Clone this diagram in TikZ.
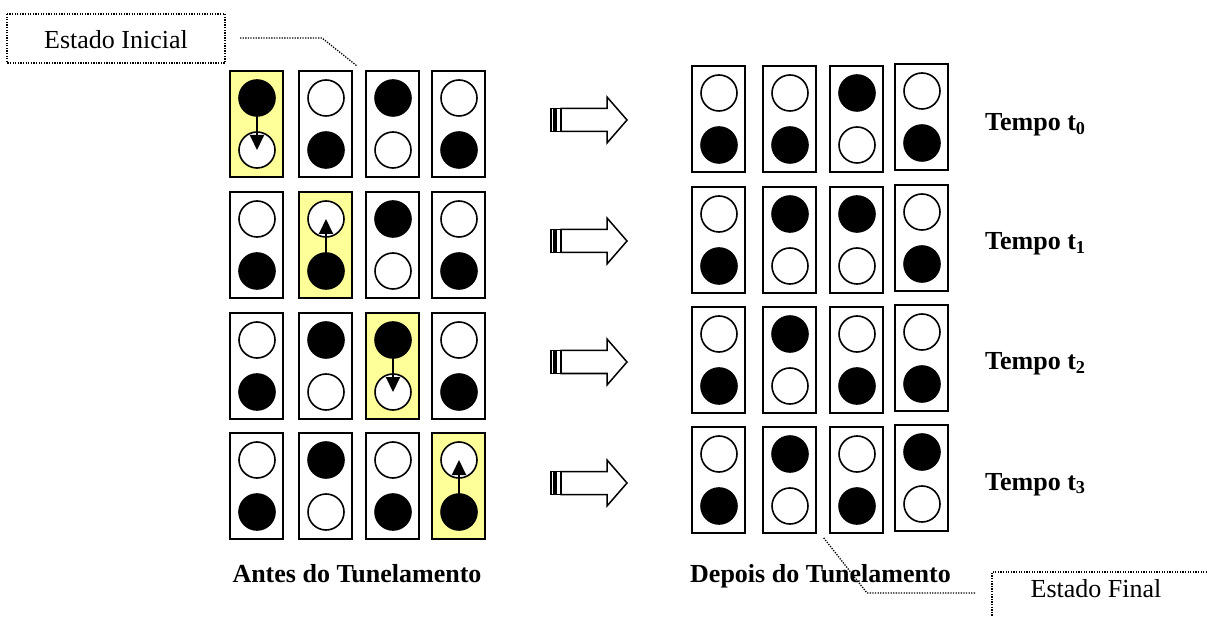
\documentclass[tikz,border=0pt]{standalone}
\usepackage{fontspec}
\setmainfont{Liberation Serif}
\usetikzlibrary{arrows.meta}
\definecolor{lightyel}{HTML}{FFFF99}
\tikzset{
  cell/.style={draw=black, line width=2pt, fill=white},
  hicell/.style={draw=black, line width=2pt, fill=lightyel},
  bdot/.style={circle, fill=black, draw=black, line width=1.6pt, minimum size=36pt, inner sep=0pt},
  wdot/.style={circle, fill=white, draw=black, line width=1.6pt, minimum size=36pt, inner sep=0pt},
  lbl/.style={font=\fontsize{26}{30}\selectfont\bfseries, inner sep=0pt},
  callout/.style={font=\fontsize{26}{30}\selectfont, inner sep=0pt},
  dotline/.style={line width=1.3pt, dash pattern=on 1.3pt off 1.3pt},
  bigarrow/.style={line width=1.5pt, fill=white, line join=miter},
  tun/.style={line width=2pt, -{Triangle[length=15pt,width=14pt]}}
}
% #1 = name, #2 = x, #3 = y, #4 = style, #5 top, #6 bottom
\newcommand{\qcell}[6]{%
  \draw[#4] (#2,#3) rectangle ++(53,106);
  \node[#5] (#1t) at (#2+27,#3+27) {};
  \node[#6] (#1b) at (#2+27,#3+79) {};
}
\begin{document}
\begin{tikzpicture}[x=1pt,y=-1pt]
\useasboundingbox (0,0) rectangle (1207,617);
% ---- Left grid (before tunneling)
% row 1
\qcell{La1}{230}{71}{hicell}{bdot}{wdot}
\qcell{Lb1}{299}{71}{cell}{wdot}{bdot}
\qcell{Lc1}{366}{71}{cell}{bdot}{wdot}
\qcell{Ld1}{432}{71}{cell}{wdot}{bdot}
\draw[tun] (La1t.center) -- (La1b.center);
% row 2
\qcell{La2}{230}{192}{cell}{wdot}{bdot}
\qcell{Lb2}{299}{192}{hicell}{wdot}{bdot}
\qcell{Lc2}{366}{192}{cell}{bdot}{wdot}
\qcell{Ld2}{432}{192}{cell}{wdot}{bdot}
\draw[tun] (Lb2b.center) -- (Lb2t.center);
% row 3
\qcell{La3}{230}{313}{cell}{wdot}{bdot}
\qcell{Lb3}{299}{313}{cell}{bdot}{wdot}
\qcell{Lc3}{366}{313}{hicell}{bdot}{wdot}
\qcell{Ld3}{432}{313}{cell}{wdot}{bdot}
\draw[tun] (Lc3t.center) -- (Lc3b.center);
% row 4
\qcell{La4}{230}{433}{cell}{wdot}{bdot}
\qcell{Lb4}{299}{433}{cell}{bdot}{wdot}
\qcell{Lc4}{366}{433}{cell}{wdot}{bdot}
\qcell{Ld4}{432}{433}{hicell}{wdot}{bdot}
\draw[tun] (Ld4b.center) -- (Ld4t.center);
% ---- Right grid (after tunneling)
\qcell{Ra1}{692}{66}{cell}{wdot}{bdot}
\qcell{Rb1}{763}{66}{cell}{wdot}{bdot}
\qcell{Rc1}{830}{66}{cell}{bdot}{wdot}
\qcell{Rd1}{895}{64}{cell}{wdot}{bdot}
\qcell{Ra2}{692}{187}{cell}{wdot}{bdot}
\qcell{Rb2}{763}{187}{cell}{bdot}{wdot}
\qcell{Rc2}{830}{187}{cell}{bdot}{wdot}
\qcell{Rd2}{895}{185}{cell}{wdot}{bdot}
\qcell{Ra3}{692}{307}{cell}{wdot}{bdot}
\qcell{Rb3}{763}{307}{cell}{bdot}{wdot}
\qcell{Rc3}{830}{307}{cell}{wdot}{bdot}
\qcell{Rd3}{895}{305}{cell}{wdot}{bdot}
\qcell{Ra4}{692}{427}{cell}{wdot}{bdot}
\qcell{Rb4}{763}{427}{cell}{bdot}{wdot}
\qcell{Rc4}{830}{427}{cell}{wdot}{bdot}
\qcell{Rd4}{895}{425}{cell}{bdot}{wdot}
% ---- Block arrows
\foreach \yy in {120,241,362,483}{
  \draw[line width=1.3pt, fill=white] (551,\yy-11.5) rectangle ++(3,23);
  \draw[line width=1.3pt, fill=white] (556,\yy-11.5) rectangle ++(5,23);
  \draw[bigarrow] (561,\yy-11.5) -- ++(46,0) -- ++(0,-11.5) -- ++(20,23)
     -- ++(-20,23) -- ++(0,-11.5) -- ++(-46,0) -- cycle;
}
% ---- Time labels
\node[lbl, anchor=base west] (T0) at (985,131) {Tempo t\textsubscript{0}};
\node[lbl, anchor=base west] (T1) at (985,250) {Tempo t\textsubscript{1}};
\node[lbl, anchor=base west] (T2) at (985,370) {Tempo t\textsubscript{2}};
\node[lbl, anchor=base west] (T3) at (985,490) {Tempo t\textsubscript{3}};
% ---- Captions
\node[lbl, anchor=base] (antes) at (357,582) {Antes do Tunelamento};
\node[lbl, anchor=base west] (depois) at (690,582) {Depois do Tunelamento};
% ---- Callouts
\draw[dotline] (7,14) rectangle (225,63);
\node[callout, anchor=base] (ei) at (116,49) {Estado Inicial};
\coordinate (ei1) at (240,38);
\coordinate (ei2) at (322,38);
\coordinate (ei3) at (357,66);
\draw[dotline] (ei1) -- (ei2) -- (ei3);
\draw[dotline] (1207,572) -- (992,572) -- (992,617);
\node[callout, anchor=base] (ef) at (1096,597) {Estado Final};
\coordinate (ef1) at (975,593);
\coordinate (ef2) at (867,593);
\coordinate (ef3) at (823,537);
\draw[dotline] (ef1) -- (ef2) -- (ef3);
\end{tikzpicture}
\end{document}
